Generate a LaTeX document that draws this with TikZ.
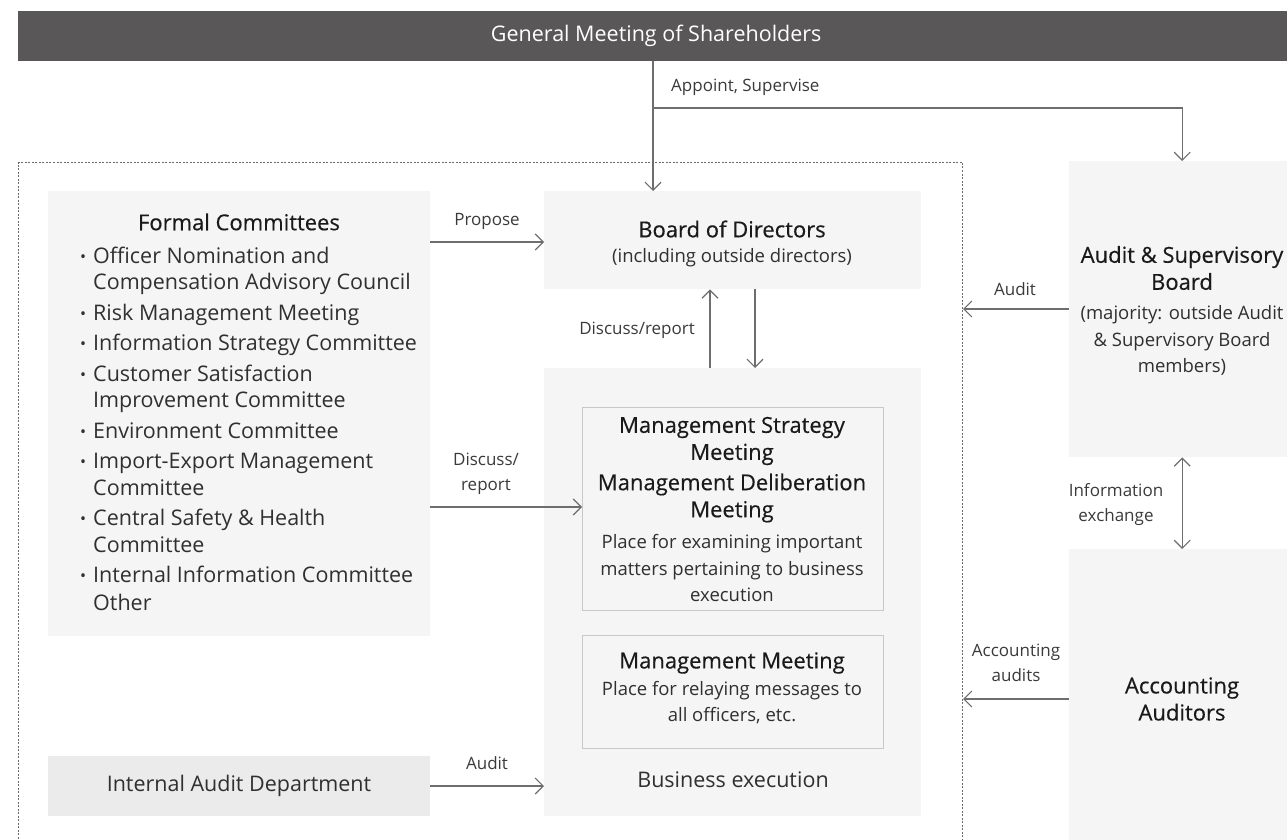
\documentclass[tikz,border=0pt]{standalone}
\usepackage{fontspec}
\setmainfont{Open Sans}
\newfontfamily\titlefont{Open Sans}[FakeBold=0.4]
\usetikzlibrary{arrows.meta}
\definecolor{barcol}{HTML}{595757}
\definecolor{boxfill}{HTML}{F5F5F5}
\definecolor{iadfill}{HTML}{EAEBEA}
\definecolor{inborder}{HTML}{C8C8C8}
\definecolor{arrcol}{HTML}{6E6E6E}
\definecolor{ttlcol}{HTML}{1A1A1A}
\definecolor{bodycol}{HTML}{303030}
\definecolor{lblcol}{HTML}{3A3A3A}
\definecolor{dashcol}{HTML}{6A6A6A}
\newcommand{\bul}{\makebox[13pt][l]{\raisebox{1pt}{\fontsize{16}{16}\selectfont •}}}
\begin{document}
\begin{tikzpicture}[x=1pt,y=-1pt,
  gbox/.style={fill=boxfill, draw=none, inner sep=0pt, anchor=north west},
  ibox/.style={fill=boxfill, draw=inborder, line width=1.2pt, inner sep=0pt, anchor=north west},
  ttl/.style={font=\titlefont\fontsize{22}{27}\selectfont, text=ttlcol, align=center, inner sep=0pt},
  bodyt/.style={font=\fontsize{21.5}{26.5}\selectfont, text=bodycol, inner sep=0pt},
  dsc/.style={font=\fontsize{18.5}{26.5}\selectfont, text=bodycol, align=center, inner sep=0pt},
  lbl/.style={font=\fontsize{17}{25}\selectfont, text=lblcol, align=center, inner sep=0pt},
  ln/.style={draw=arrcol, line width=1.2pt},
  arr/.style={ln, -{Straight Barb[length=8pt,width=16pt]}},
  arrb/.style={ln, {Straight Barb[length=8pt,width=16pt]}-{Straight Barb[length=8pt,width=16pt]}}
]
\useasboundingbox (0,0) rectangle (1287,840);

% dashed governance region
\node[draw=dashcol, line width=1pt, dash pattern=on 2pt off 1.5pt, fill=none,
      minimum width=944pt, minimum height=700pt, inner sep=0pt, anchor=north west] (gov) at (18,162) {};

% top bar
\node[fill=barcol, inner sep=0pt, anchor=north west, minimum width=1276pt, minimum height=50pt,
      text=white, font=\fontsize{21.5}{26}\selectfont] (gms) at (18,11) {General Meeting of Shareholders};

% boxes
\node[gbox, minimum width=382pt, minimum height=445pt] (fc) at (48,191) {};
\node[gbox, minimum width=377pt, minimum height=98pt] (bod) at (544,191) {};
\node[gbox, minimum width=377pt, minimum height=448pt] (be) at (544,368) {};
\node[ibox, minimum width=301pt, minimum height=203pt] (msm) at (582,407) {};
\node[ibox, minimum width=301pt, minimum height=113pt] (mm) at (582,635) {};
\node[gbox, fill=iadfill, minimum width=382pt, minimum height=60pt] (iad) at (48,756) {};
\node[gbox, minimum width=226pt, minimum height=296pt] (asb) at (1069,161) {};
\node[gbox, minimum width=226pt, minimum height=320pt] (aa) at (1069,549) {};

% texts
\node[ttl] (fcT) at (239,222) {Formal Committees};
\node[bodyt, align=left, anchor=west] (fcL) at (80,429) {%
\bul Officer Nomination and\\
\hspace*{13pt}Compensation Advisory Council\\[4pt]
\bul Risk Management Meeting\\[4pt]
\bul Information Strategy Committee\\[4pt]
\bul Customer Satisfaction\\
\hspace*{13pt}Improvement Committee\\[4pt]
\bul Environment Committee\\[4pt]
\bul Import-Export Management\\
\hspace*{13pt}Committee\\[4pt]
\bul Central Safety \& Health\\
\hspace*{13pt}Committee\\[4pt]
\bul Internal Information Committee\\[1.5pt]
\hspace*{13pt}Other};

\node[ttl] (bodT) at (732,229) {Board of Directors};
\node[dsc] (bodD) at (732,258) {(including outside directors)};

\node[ttl] (msmT1) at (732,441) {Management Strategy\\Meeting};
\node[ttl] (msmT2) at (732,498) {Management Deliberation\\Meeting};
\node[dsc] (msmD) at (732,568.5) {Place for examining important\\matters pertaining to business\\execution};

\node[ttl] (mmT) at (732,663) {Management Meeting};
\node[dsc] (mmD) at (732,702.5) {Place for relaying messages to\\all officers, etc.};

\node[bodyt] (beT) at (733,780) {Business execution};
\node[bodyt] (iadT) at (239,786) {Internal Audit Department};

\node[ttl] (asbT) at (1182,268) {Audit \& Supervisory\\Board};
\node[dsc] (asbD) at (1182,340.5) {(majority: outside Audit\\\& Supervisory Board\\members)};
\node[ttl] (aaT) at (1182,699) {Accounting\\Auditors};

% connectors
\coordinate (j) at (653,108);
\coordinate (yProp) at (0,242);
\coordinate (yDR) at (0,507);
\coordinate (yIA) at (0,786);
\coordinate (yAud) at (0,309);
\coordinate (yAcc) at (0,699);
\coordinate (xUp) at (710,0);
\coordinate (xDn) at (755,0);

\draw[arr] (gms.south -| j) -- (bod.north -| j);
\draw[arr] (j) -| (asb.north);
\draw[arr] (fc.east |- yProp) -- (bod.west |- yProp);
\draw[arr] (be.north -| xUp) -- (bod.south -| xUp);
\draw[arr] (bod.south -| xDn) -- (be.north -| xDn);
\draw[arr] (fc.east |- yDR) -- (msm.west |- yDR);
\draw[arr] (iad.east |- yIA) -- (be.west |- yIA);
\draw[arr] (asb.west |- yAud) -- (gov.east |- yAud);
\draw[arrb] (asb.south) -- (aa.north);
\draw[arr] (aa.west |- yAcc) -- (gov.east |- yAcc);

% labels
\node[lbl, anchor=west] (lAppoint) at (671,87) {Appoint, Supervise};
\node[lbl] (lProp) at (487,221) {Propose};
\node[lbl, anchor=east] (lDR1) at (695,330) {Discuss/report};
\node[lbl] (lDR2) at (486,473.5) {Discuss/\\report};
\node[lbl] (lIA) at (487,763) {Audit};
\node[lbl] (lAud) at (1015,289) {Audit};
\node[lbl] (lInfo) at (1116,504.5) {Information\\exchange};
\node[lbl] (lAcc) at (1016,663) {Accounting\\audits};
\end{tikzpicture}
\end{document}
